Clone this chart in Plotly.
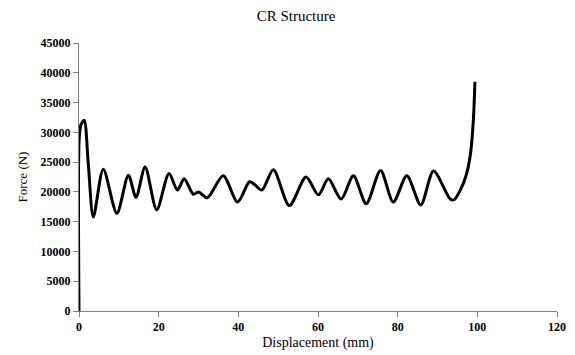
import plotly.graph_objects as go

displacement_mm = [0.0, 0.05, 0.5, 1.3, 2.3, 3.6, 6.1, 9.5, 12.4, 14.3, 16.6, 19.5, 22.6,
                   24.7, 26.4, 28.7, 30.0, 32.2, 36.2, 39.8, 42.8, 44.0, 45.9, 48.8,
                   52.8, 57.0, 60.1, 62.6, 65.8, 68.9, 72.1, 75.7, 78.9, 82.3, 85.8,
                   89.0, 93.2, 94.2, 95.8, 97.2, 98.3, 99.0, 99.4]
force_n = [0, 29000, 31300, 32000, 25000, 15800, 23800, 16400, 22800, 19100, 24200,
           17000, 23100, 20300, 22200, 19600, 20000, 19000, 22700, 18300, 21700, 21300,
           20300, 23700, 17700, 22500, 19500, 22200, 18800, 22700, 18000, 23600, 18300,
           22700, 17800, 23500, 18800, 18700, 20400, 22800, 26500, 32000, 38500]

x_ticks = [0, 20, 40, 60, 80, 100, 120]
y_ticks = [0, 5000, 10000, 15000, 20000, 25000, 30000, 35000, 40000, 45000]

serif = "Liberation Serif"

fig = go.Figure()
fig.add_trace(go.Scatter(
    x=displacement_mm, y=force_n, mode="lines",
    line=dict(color="black", width=3, shape="spline", smoothing=0.8),
    showlegend=False, hoverinfo="x+y",
))

axis_common = dict(
    showgrid=False, zeroline=False, showline=True, linecolor="#808080", linewidth=1,
    ticks="outside", ticklen=5, tickcolor="#808080", tickwidth=1,
    tickfont=dict(family=serif, size=12, color="black", weight="bold"),
)

fig.update_layout(
    width=575, height=355,
    margin=dict(l=79, r=18, t=43, b=44, autoexpand=False),
    paper_bgcolor="white", plot_bgcolor="white",
    title=dict(text="CR Structure", x=296 / 575, xanchor="center", y=1 - 16 / 355,
               yanchor="middle", font=dict(family=serif, size=15, color="black")),
    xaxis=dict(range=[0, 120], tickvals=x_ticks, ticktext=[str(v) for v in x_ticks],
               title=dict(text="Displacement (mm)", standoff=3,
                          font=dict(family=serif, size=14, color="black")),
               **axis_common),
    yaxis=dict(range=[0, 45000], tickvals=y_ticks, ticktext=[str(v) for v in y_ticks],
               title=dict(text="Force (N)", standoff=10,
                          font=dict(family=serif, size=13, color="black")),
               **axis_common),
)

fig.write_html("out.html")
